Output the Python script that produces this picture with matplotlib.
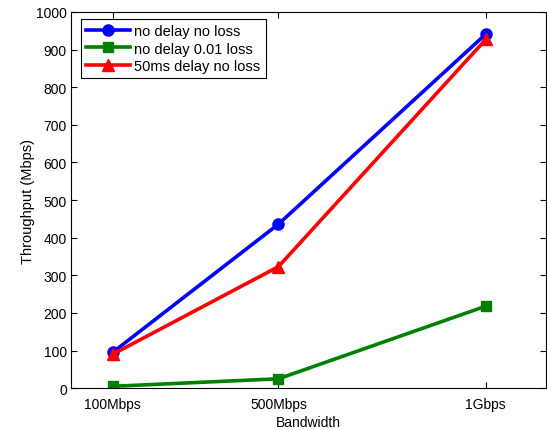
import matplotlib
matplotlib.use("Agg")
import matplotlib.pyplot as plt

plt.rcParams['font.family'] = ['Liberation Sans', 'DejaVu Sans']

bandwidth = [100, 500, 1000]
tick_labels = ['100Mbps', '500Mbps', '1Gbps']
no_delay_no_loss = [95, 436, 941]
no_delay_loss = [5, 25, 218]
delay_no_loss = [90, 323, 927]

fig = plt.figure(figsize=(5.47, 4.31), dpi=100)
ax = fig.add_axes([0.130, 0.097, 0.868, 0.873])

ax.plot(bandwidth, no_delay_no_loss, color='#0000ff', lw=2.6, marker='o', ms=8, label='no delay no loss')
ax.plot(bandwidth, no_delay_loss, color='#008000', lw=2.6, marker='s', ms=7, label='no delay 0.01 loss')
ax.plot(bandwidth, delay_no_loss, color='#ff0000', lw=2.6, marker='^', ms=9, label='50ms delay no loss')

ax.set_xlim(0, 1145)
ax.set_ylim(0, 1000)
ax.set_xticks(bandwidth)
ax.set_xticklabels(tick_labels)
ax.set_yticks(range(0, 1001, 100))
ax.tick_params(direction='in', labelsize=10, top=True, right=True, length=4, pad=3)
ax.tick_params(axis='x', pad=6)
ax.set_xlabel('Bandwidth', fontsize=10, labelpad=3)
ax.set_ylabel('Throughput (Mbps)', fontsize=10.5, labelpad=1)

leg = ax.legend(loc='upper left', fontsize=10.5, fancybox=False, edgecolor='black',
                framealpha=1, handlelength=3.0, borderaxespad=0.5, labelspacing=0.22,
                handletextpad=0.3, borderpad=0.35, bbox_to_anchor=(0.006, 1.0))
leg.get_frame().set_linewidth(0.8)

fig.savefig('out.png', dpi=100)
